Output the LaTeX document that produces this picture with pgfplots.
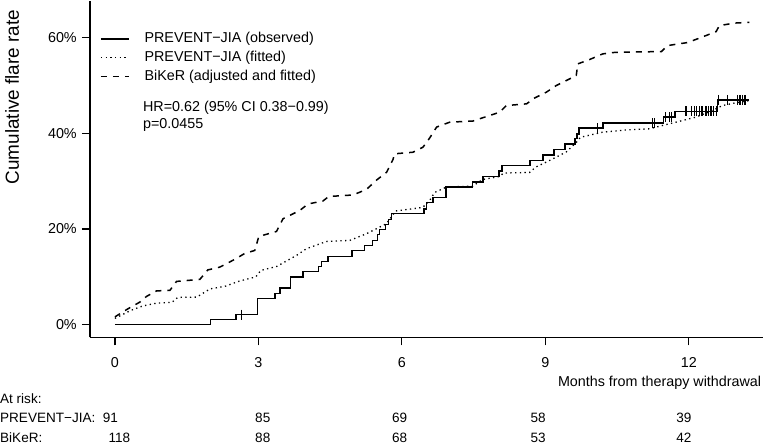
\documentclass[border=0pt]{standalone}
\usepackage{pgfplots}
\pgfplotsset{compat=1.18}
\usepackage{fontspec}
\setmainfont{Liberation Sans}
\begin{document}
\fontsize{14.4}{17}\selectfont
\begin{tikzpicture}
\begin{axis}[
  at={(0,0)}, anchor=south west,
  scale only axis, width=674bp, height=337bp,
  xmin=-0.5224, xmax=13.56, ymin=-0.0265, ymax=0.677,
  separate axis lines,
  axis x line=bottom, axis y line=left,
  axis line style={-, line width=1.3bp, black},
  tick align=outside, major tick length=8bp,
  tick style={line width=1.3bp, black},
  xtick={0,3,6,9,12}, xticklabels={0,3,6,9,12},
  ytick={0,0.2,0.4,0.6}, yticklabels={0\%,20\%,40\%,60\%},
  xticklabel style={inner sep=0pt, yshift=-11.5bp, font=\fontsize{14.4}{17}\selectfont},
  yticklabel style={inner sep=0pt, xshift=-5bp, font=\fontsize{14.4}{17}\selectfont},
  clip=false,
  legend cell align=left,
  legend image code/.code={\draw[#1] (0bp,0bp) -- (28bp,0bp);},
  legend style={at={(axis cs:-0.3134,0.6134)}, anchor=north west, draw=none, fill=none,
    inner sep=0pt, row sep=4bp, column sep=0bp,
    nodes={inner sep=0pt, text height=11bp, text depth=4bp, font=\fontsize{14.4}{17}\selectfont},
    /tikz/every odd column/.style={column sep=15bp}},
]
\addplot[const plot, black, line width=1.5bp] coordinates {
(0,0) (2.000,0.0104) (2.528,0.0209) (2.982,0.0543) (3.343,0.0647) (3.448,0.0764)
(3.671,0.0994) (3.934,0.1113) (4.262,0.1217) (4.319,0.1322) (4.457,0.1426)
(4.958,0.1551) (5.223,0.1656) (5.384,0.1760) (5.495,0.1886) (5.537,0.1990)
(5.662,0.2094) (5.725,0.2198) (5.788,0.2324) (6.463,0.2422) (6.513,0.2553)
(6.651,0.2658) (6.922,0.2877) (7.474,0.2977) (7.695,0.3096) (8.034,0.3211)
(8.097,0.3326) (8.682,0.3430) (8.949,0.3541) (9.187,0.3656) (9.409,0.3770)
(9.622,0.3889) (9.668,0.3987) (9.701,0.4104) (10.203,0.4209) (11.477,0.4334)
(11.715,0.4459) (12.606,0.4697) (13.268,0.4697)};
\addlegendentry{PREVENT−JIA (observed)}
\addplot[black, line width=1.3bp, dash pattern=on 1.3bp off 3.4bp] coordinates {
(0,0.0132) (0.167,0.0215) (0.334,0.0299) (0.585,0.0392) (0.878,0.0451) (1.191,0.0466)
(1.316,0.0570) (1.713,0.0576) (1.985,0.0747) (2.298,0.0800) (2.612,0.0914)
(2.946,0.0998) (3.051,0.1134) (3.385,0.1217) (3.797,0.1447) (4.005,0.1587)
(4.423,0.1739) (4.910,0.1760) (5.259,0.1900) (5.468,0.2004) (5.677,0.2109)
(5.871,0.2376) (6.435,0.2449) (6.582,0.2595) (6.686,0.2762) (6.937,0.2877)
(7.480,0.2894) (7.689,0.3033) (8.044,0.3096) (8.128,0.3169) (8.671,0.3180)
(8.796,0.3290) (9.110,0.3441) (9.438,0.3608) (9.647,0.3806) (9.737,0.3916)
(10.196,0.4021) (10.677,0.4067) (11.178,0.4092) (11.450,0.4161) (11.868,0.4265)
(12.140,0.4334) (12.495,0.4474) (12.704,0.4578) (12.955,0.4630) (13.268,0.4683)};
\addlegendentry{PREVENT−JIA (fitted)}
\addplot[black, line width=1.5bp, dash pattern=on 6bp off 6bp] coordinates {
(0,0.0163) (0.167,0.0267) (0.313,0.0355) (0.522,0.0472) (0.662,0.0591) (0.871,0.0706)
(1.149,0.0716) (1.289,0.0904) (1.776,0.0946) (1.943,0.1144) (2.194,0.1203)
(2.334,0.1273) (2.528,0.1378) (2.716,0.1489) (2.925,0.1551) (3.009,0.1843)
(3.379,0.1948) (3.516,0.2213) (3.865,0.2386) (4.039,0.2522) (4.352,0.2585)
(4.471,0.2678) (4.979,0.2710) (5.259,0.2825) (5.474,0.3023) (5.683,0.3186)
(5.815,0.3451) (5.850,0.3570) (6.233,0.3603) (6.442,0.3708) (6.582,0.3900)
(6.728,0.4129) (7.000,0.4230) (7.486,0.4255) (7.626,0.4301) (8.044,0.4438)
(8.184,0.4578) (8.608,0.4614) (8.775,0.4735) (9.020,0.4856) (9.229,0.4996)
(9.647,0.5205) (9.680,0.5449) (9.925,0.5539) (10.203,0.5658) (10.468,0.5691)
(11.429,0.5706) (11.554,0.5831) (11.972,0.5894) (12.223,0.5987) (12.572,0.6123)
(12.640,0.6248) (12.954,0.6301) (13.268,0.6317)};
\addlegendentry{BiKeR (adjusted and fitted)}
\addplot[only marks, mark=|, mark size=5bp, mark options={line width=1.3bp, black}, forget plot] coordinates {
(2.647,0.0209) (10.098,0.4104) (11.241,0.4209) (11.283,0.4209)
(11.513,0.4334) (11.597,0.4334) (11.632,0.4334)
(11.945,0.4459) (12.050,0.4459) (12.119,0.4459) (12.161,0.4459) (12.223,0.4459)
(12.280,0.4459) (12.363,0.4459) (12.418,0.4459) (12.468,0.4459) (12.516,0.4459) (12.585,0.4459)
(12.626,0.4697) (12.814,0.4697) (13.023,0.4697) (13.073,0.4697) (13.128,0.4697) (13.178,0.4697)};
% annotation text
\node[anchor=west, inner sep=0pt] at (axis cs:0.585,0.4537) {HR=0.62 (95\% CI 0.38−0.99)};
\node[anchor=west, inner sep=0pt] at (axis cs:0.585,0.4182) {p=0.0455};
\node[rotate=90, inner sep=0pt, font=\fontsize{19}{22}\selectfont] at (axis cs:-2.152,0.4756) {Cumulative flare rate};
\node[anchor=base east, inner sep=0pt] at (axis cs:13.518,-0.1292) {Months from therapy withdrawal};
\begin{scope}[every node/.style={inner sep=0pt, font=\fontsize{13.6}{16}\selectfont}]
\node[anchor=base west] at (axis cs:-2.403,-0.1653) {At risk:};
\node[anchor=base west] at (axis cs:-2.403,-0.2050) {PREVENT−JIA:};
\node[anchor=base west] at (axis cs:-2.403,-0.2468) {BiKeR:};
\node[anchor=base] at (axis cs:-0.094,-0.2050) {91};
\node[anchor=base] at (axis cs:3.092,-0.2050) {85};
\node[anchor=base] at (axis cs:5.955,-0.2050) {69};
\node[anchor=base] at (axis cs:8.849,-0.2050) {58};
\node[anchor=base] at (axis cs:11.899,-0.2050) {39};
\node[anchor=base] at (axis cs:0.094,-0.2468) {118};
\node[anchor=base] at (axis cs:3.092,-0.2468) {88};
\node[anchor=base] at (axis cs:5.955,-0.2468) {68};
\node[anchor=base] at (axis cs:8.849,-0.2468) {53};
\node[anchor=base] at (axis cs:11.899,-0.2468) {42};
\end{scope}
\end{axis}
\path[use as bounding box] (-90bp,-108bp) rectangle (674bp,337bp);
\end{tikzpicture}
\end{document}
